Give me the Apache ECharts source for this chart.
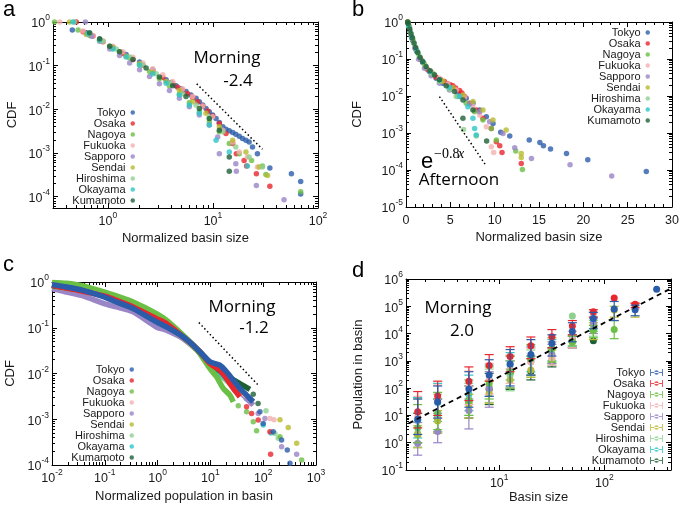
<!DOCTYPE html>
<html><head><meta charset="utf-8">
<script src="https://cdn.jsdelivr.net/npm/echarts@6/dist/echarts.min.js"></script>
<style>html,body{margin:0;padding:0;background:#fff}#c{width:685px;height:511px}</style>
</head><body><div id="c"></div>
<script>
const cities = ['Tokyo','Osaka','Nagoya','Fukuoka','Sapporo','Sendai','Hiroshima','Okayama','Kumamoto'];
const cityColors = ['#2a5caa','#e8262d','#6abf44','#f5b0b0','#9a85c6','#b8ba2e','#8ed08e','#2ec5c8','#1e6036'];

// ---- panel a : morning basin size CDF ----
const aTokyo = [[0.458,0.653],[0.623,0.567],[0.834,0.398],[1.115,0.265],[1.49,0.179],[2.0,0.121],[2.67,0.0809],[3.58,0.0475],[3.99,0.0412],[4.45,0.0345],[4.97,0.0295],[5.54,0.0256],[6.18,0.0214],[6.90,0.0179],[7.42,0.0150],[7.98,0.0126],[8.58,0.0105],[9.23,0.00883],[9.93,0.0074],[10.7,0.0062],[11.5,0.0050],[12.4,0.00398],[13.3,0.00352],[14.3,0.00322],[15.4,0.00295],[16.5,0.0027],[17.8,0.00243],[19.1,0.00214],[20.6,0.00196],[22.1,0.00179],[23.8,0.00138],[26.5,0.000966],[34.8,0.000451],[55.8,0.000334],[68.4,0.000222],[68.4,0.000115]];
const aOsaka = [[0.50,1],[0.58,0.598],[0.721,0.475],[0.897,0.352],[1.115,0.256],[1.39,0.189],[1.73,0.138],[2.15,0.102],[2.67,0.074],[3.33,0.0538],[4.14,0.0384],[4.62,0.0322],[5.15,0.027],[5.74,0.0226],[6.41,0.0186],[7.15,0.0150],[7.98,0.0119],[8.9,0.00916],[9.93,0.00702],[11.5,0.00475],[13.3,0.00279],[15.4,0.00164],[16.7,0.000966],[19.8,0.000677],[20.9,0.000501],[25.9,0.000334],[34.8,0.000173]];
const aNagoya = [[0.31,1],[0.52,0.653],[0.67,0.492],[0.834,0.384],[1.04,0.279],[1.29,0.207],[1.61,0.150],[2.0,0.105],[2.49,0.074],[3.09,0.0501],[3.85,0.0345],[4.79,0.0222],[5.96,0.0143],[7.42,0.00883],[9.23,0.00519],[11.5,0.00305],[14.3,0.00164],[17.8,0.000966],[23.3,0.000677],[29.6,0.000501],[31.9,0.000322],[68.4,0.000130]];
const aFukuoka = [[0.348,1],[0.58,0.62],[0.721,0.492],[0.897,0.371],[1.115,0.279],[1.39,0.207],[1.73,0.156],[2.15,0.115],[2.67,0.0853],[3.33,0.062],[4.14,0.0435],[5.15,0.0295],[6.41,0.0196],[7.98,0.0119],[9.93,0.00677],[12.4,0.00334],[15.4,0.00179],[17.8,0.00105],[21.3,0.000809],[26.5,0.000475]];
const aSapporo = [[0.61,1],[0.70,0.47],[0.834,0.364],[1.04,0.242],[1.29,0.170],[1.61,0.115],[2.0,0.0809],[2.49,0.0567],[3.09,0.0384],[3.85,0.027],[4.79,0.0179],[5.96,0.0115],[7.42,0.0074],[9.23,0.00435],[11.1,0.00234],[11.5,0.000966],[16.5,0.000567],[16.7,0.000384],[25.9,0.000179],[47.5,0.0000853]];
const aSendai = [[0.43,1],[0.623,0.519],[0.834,0.384],[1.115,0.256],[1.49,0.164],[2.0,0.111],[2.67,0.0702],[3.58,0.0435],[4.79,0.027],[6.41,0.015],[8.58,0.00809],[11.5,0.00398],[15.4,0.00196],[20.6,0.00105],[27.5,0.000475],[33.1,0.000305]];
const aHiroshima = [[0.48,1],[0.67,0.548],[0.897,0.364],[1.20,0.242],[1.61,0.158],[2.15,0.102],[2.88,0.0654],[3.85,0.0398],[5.15,0.0226],[6.90,0.0126],[9.23,0.00654],[12.4,0.00305],[16.5,0.00138],[22.1,0.000809],[29.6,0.000475]];
const aOkayama = [[0.465,1],[0.645,0.538],[0.834,0.384],[1.115,0.242],[1.49,0.158],[2.0,0.104],[2.67,0.0654],[3.58,0.0398],[4.79,0.0214],[5.96,0.0126],[7.42,0.00809],[9.23,0.00435],[10.7,0.00196],[14.3,0.00105],[21.3,0.000501]];
const aKumamoto = [[0.67,0.567],[0.834,0.412],[1.04,0.279],[1.29,0.207],[1.73,0.138],[2.31,0.0883],[3.09,0.0548],[4.14,0.0345],[5.54,0.0196],[7.42,0.0105],[9.23,0.0062],[11.5,0.00334],[14.3,0.000809],[14.3,0.000384]];
const aGuide = [[7.0,0.0384],[29.6,0.00122]];

// ---- panel b : afternoon basin size CDF ----
const bTokyo = [[0.23,0.94],[0.45,0.558],[0.75,0.318],[1.21,0.160],[1.89,0.0805],[2.64,0.0459],[3.40,0.0303],[4.15,0.0221],[4.91,0.0162],[5.85,0.0119],[6.79,0.00869],[7.55,0.00635],[8.30,0.00419],[9.06,0.00276],[9.81,0.00182],[10.68,0.00104],[11.7,0.000826],[13.9,0.000643],[15.1,0.000556],[15.5,0.000452],[16.3,0.000367],[18.1,0.00028],[20.5,0.000188],[27.1,0.0000908]];
const bOsaka = [[0.19,1],[0.38,0.688],[0.68,0.368],[1.13,0.178],[1.70,0.0951],[2.45,0.0509],[3.40,0.0322],[3.9,0.028],[4.34,0.0246],[4.7,0.0215],[5.0,0.020],[5.28,0.0188],[5.6,0.0165],[6.04,0.014],[6.3,0.012],[6.60,0.00963],[7.17,0.00635],[7.92,0.00419],[8.68,0.00249],[9.62,0.00133],[10.19,0.00058],[10.57,0.000452],[10.83,0.000298],[13.0,0.00015]];
const bNagoya = [[0.19,1],[0.38,0.732],[0.68,0.392],[1.06,0.197],[1.58,0.106],[2.26,0.0589],[3.02,0.0373],[3.96,0.0246],[4.91,0.0152],[5.85,0.00963],[6.79,0.00635],[7.74,0.00378],[8.68,0.00224],[9.62,0.00133],[10.19,0.000643],[12.38,0.000324],[13.13,0.000103]];
const bFukuoka = [[0.38,0.76],[0.75,0.346],[1.28,0.160],[1.96,0.0805],[2.83,0.0459],[3.77,0.0303],[4.72,0.0212],[5.66,0.0146],[6.60,0.00924],[7.55,0.00538],[8.30,0.00306],[9.06,0.00148],[9.62,0.000424],[9.89,0.000298]];
const bSapporo = [[0.30,0.795],[0.60,0.409],[0.98,0.197],[1.43,0.0991],[2.08,0.0565],[2.83,0.035],[3.77,0.0221],[4.91,0.0146],[6.04,0.00963],[7.17,0.0061],[8.30,0.00378],[9.43,0.00202],[10.94,0.000975],[12.26,0.000398],[14.15,0.000205],[18.5,0.000138],[23.2,0.0000693]];
const bSendai = [[0.34,0.76],[0.75,0.346],[1.32,0.150],[2.08,0.0741],[3.02,0.0414],[4.15,0.0256],[5.28,0.0169],[6.42,0.0107],[7.55,0.00705],[8.68,0.00419],[9.81,0.00224],[11.3,0.0012],[13.0,0.00028],[13.0,0.000218]];
const bHiroshima = [[0.26,0.865],[0.53,0.503],[0.91,0.258],[1.43,0.130],[2.08,0.0696],[2.94,0.0397],[3.77,0.0246],[4.91,0.0152],[5.66,0.00963],[6.49,0.00125],[7.92,0.000826]];
const bOkayama = [[0.30,0.76],[0.68,0.368],[1.21,0.170],[1.89,0.0857],[2.72,0.0459],[3.77,0.0273],[4.91,0.0172],[6.04,0.00963],[6.98,0.00515],[7.55,0.00249],[7.74,0.00133],[7.92,0.000879]];
const bKumamoto = [[0.19,1],[0.26,0.901],[0.42,0.646],[0.57,0.483],[0.72,0.368],[0.91,0.269],[1.09,0.206],[1.32,0.150],[1.58,0.112],[1.89,0.0839],[2.26,0.0627],[2.72,0.0479],[3.21,0.0373],[3.77,0.0273],[4.53,0.0188],[5.47,0.0132],[6.42,0.00782],[6.42,0.00249],[7.55,0.00419],[9.09,0.000604]];
const bGuide = [[3.77,0.00963],[8.94,0.000141]];

// ---- panel c : morning population CDF (dense body + tail) ----
const cTokyoBody = [[0.01,0.875],[0.0187,0.778],[0.0387,0.658],[0.0968,0.471],[0.166,0.366],[0.344,0.262],[0.953,0.134],[1.47,0.104],[3.05,0.0631],[4.72,0.0415],[6.31,0.0297],[9.77,0.018],[15.1,0.0152],[20.2,0.0109],[27.1,0.00716],[36.2,0.00471],[48.4,0.00337],[64.8,0.00241]];
const cTokyoTail = [[86.7,0.00146],[100,0.00081],[155,0.000533],[223,0.000351],[286,0.000212],[321,0.000109]];
const cOsakaBody = [[0.01,0.846],[0.0187,0.74],[0.0387,0.626],[0.0968,0.495],[0.166,0.398],[0.344,0.285],[0.953,0.158],[1.47,0.123],[3.05,0.0631],[4.72,0.0415],[6.31,0.0297],[9.77,0.0165],[15.1,0.0118],[20.2,0.00778],[27.1,0.00471],[36.2,0.0031]];
const cOsakaTail = [[48.4,0.00187],[60.3,0.00134],[80.5,0.000959],[134,0.000533],[138,0.000171]];
const cNagoyaBody = [[0.01,0.98],[0.0187,0.935],[0.0387,0.818],[0.0968,0.605],[0.166,0.495],[0.344,0.366],[0.953,0.204],[1.47,0.146],[3.05,0.0686],[4.72,0.0415],[6.31,0.0273],[9.77,0.0129],[13.1,0.00846],[17.5,0.00471],[23.4,0.00337],[27.1,0.00241]];
const cNagoyaTail = [[33.7,0.00197],[48.4,0.00146],[64.8,0.00088],[75,0.000561],[208,0.000415],[535,0.000129]];
const cFukuokaBody = [[0.01,0.846],[0.0387,0.64],[0.0968,0.5],[0.344,0.29],[0.953,0.16],[3.05,0.065],[6.31,0.029],[9.77,0.0155],[15.1,0.0105],[27.1,0.0055],[48.4,0.0032]];
const cFukuokaTail = [[60,0.0022],[134,0.00104],[160,0.00098]];
const cSapporoBody = [[0.01,0.716],[0.0187,0.605],[0.0387,0.495],[0.0968,0.337],[0.166,0.285],[0.344,0.222],[0.953,0.104],[1.47,0.0881],[3.05,0.058],[4.72,0.0382],[6.31,0.0297],[9.77,0.018],[15.1,0.0118],[23.4,0.00658],[36.2,0.00398],[64.8,0.00204]];
const cSapporoTail = [[80.5,0.00134],[108,0.00104],[223,0.000251],[430,0.000171]];
const cSendaiBody = [[0.01,0.83],[0.0387,0.64],[0.0968,0.49],[0.344,0.28],[0.953,0.15],[3.05,0.062],[6.31,0.028],[9.77,0.016],[20.2,0.008],[36.2,0.0045]];
const cSendaiTail = [[208,0.00098],[298,0.00066],[430,0.0003]];
const cHiroshimaBody = [[0.01,0.84],[0.0387,0.65],[0.0968,0.5],[0.344,0.29],[0.953,0.155],[3.05,0.064],[6.31,0.028],[9.77,0.015],[20.2,0.007],[36.2,0.0035]];
const cHiroshimaTail = [[113,0.00153],[167,0.00049],[193,0.000382]];
const cOkayamaBody = [[0.01,0.85],[0.0387,0.66],[0.0968,0.51],[0.344,0.3],[0.953,0.16],[3.05,0.066],[6.31,0.029],[9.77,0.016],[20.2,0.0075],[36.2,0.004]];
const cOkayamaTail = [[48,0.0028],[100,0.00075],[140,0.0005]];
const cKumamotoBody = [[0.01,0.84],[0.0387,0.65],[0.0968,0.5],[0.344,0.29],[0.953,0.155],[3.05,0.064],[6.31,0.03],[9.77,0.017],[20.2,0.009],[36.2,0.006],[56,0.0045]];
const cKumamotoTail = [[64.8,0.0035],[80,0.0022]];
const cGuide = [[6.04,0.13],[80.5,0.00556]];

// ---- panel d : population vs basin size, [mean, low, high] per bin ----
const dBins = [1.68, 2.6, 5.15, 8.03, 12.7, 20, 31.7, 49.6, 78.6, 124, 196, 314];
const dTokyo = [[7.3,2.0,40],[32,8,120],[93,20,400],[300,50,1100],[760,120,2600],[1700,300,6000],[4400,1500,9000],[12000,5000,25000],[36000,15000,60000],[80000,30000,150000],[75000,45000,110000],[418000,418000,418000]];
const dOsaka = [[13.7,3.5,75],[52,10,180],[180,35,600],[680,180,1700],[1430,400,3300],[3600,1200,7500],[7700,3000,14000],[19000,9000,30000],[63000,40000,75000],[200000,200000,200000],[118000,90000,130000],null];
const dNagoya = [[3.5,1,25],[12,3,70],[35,10,200],[150,40,600],[400,100,1500],[1200,300,4000],[2800,900,7000],[5000,3500,8000],[13000,7000,20000],[14000,6500,30000],null,null];
const dFukuoka = [[9,2,50],[35,8,130],[110,25,420],[200,60,800],[450,150,1600],[900,300,3000],[1300,700,5000],[6000,3000,12000],[50000,20000,60000],null,[110000,80000,130000],null];
const dSapporo = [[0.95,0.35,5.5],[2.6,1.0,12],[15,3.2,40],[100,20,400],[460,100,1500],[1000,300,3000],[1600,800,4000],[6500,3000,12000],[22000,10000,35000],null,null,null];
const dSendai = [[2.0,0.65,4.2],[6.3,2.2,15],[25,8,60],[65,28,180],[200,100,500],[460,250,1200],[1100,800,2500],[4800,3000,9000],[13000,6000,25000],[73000,40000,100000],[97000,40000,130000],null];
const dHiroshima = [[2.2,0.7,40],[10,2.5,60],[38,10,150],[110,30,500],[300,80,1000],[900,250,2500],[1800,700,5000],[44000,44000,44000],[18000,8000,30000],null,null,null];
const dOkayama = [[6.5,1.5,45],[30,6,150],[60,15,300],[200,50,700],[700,200,2000],[1300,400,3500],[2900,1000,6000],[5800,3500,9000],[25000,12000,40000],null,null,null];
const dKumamoto = [[2,1,12],[8,2.5,40],[30,8,120],[90,25,350],[350,90,1000],[400,200,1500],[950,600,3000],[5000,3000,8000],[5500,5500,5500],null,null,null];
const dGuide = [[1.38,5.1],[420,430000]];

const aData = [aTokyo,aOsaka,aNagoya,aFukuoka,aSapporo,aSendai,aHiroshima,aOkayama,aKumamoto];
const bData = [bTokyo,bOsaka,bNagoya,bFukuoka,bSapporo,bSendai,bHiroshima,bOkayama,bKumamoto];
const cBody = [cTokyoBody,cOsakaBody,cNagoyaBody,cFukuokaBody,cSapporoBody,cSendaiBody,cHiroshimaBody,cOkayamaBody,cKumamotoBody];
const cTail = [cTokyoTail,cOsakaTail,cNagoyaTail,cFukuokaTail,cSapporoTail,cSendaiTail,cHiroshimaTail,cOkayamaTail,cKumamotoTail];
const dData = [dTokyo,dOsaka,dNagoya,dFukuoka,dSapporo,dSendai,dHiroshima,dOkayama,dKumamoto];

const FONT = 'Liberation Sans';
const TXT = '#1a1a1a';
function logLabel(v) {
  const l = Math.log10(v), e = Math.round(l);
  if (Math.abs(l - e) > 1e-6) return '';
  return '{b|10}{s|' + e + '}';
}
const rich = {
  b: {fontFamily: FONT, fontSize: 12.5, color: TXT, lineHeight: 17, verticalAlign: 'bottom'},
  s: {fontFamily: FONT, fontSize: 8.5, color: TXT, lineHeight: 17, verticalAlign: 'top'}
};
function axis(kind, gi, type, min, max, extra, mirror) {
  const isX = kind === 'x';
  const a = {
    type, gridIndex: gi, min, max,
    position: mirror ? (isX ? 'top' : 'right') : (isX ? 'bottom' : 'left'),
    axisLine: {show: true, onZero: false, lineStyle: {color: '#000', width: 1}},
    axisTick: {show: true, inside: true, length: 5, lineStyle: {color: '#000', width: 1}},
    minorTick: {show: type === 'log', splitNumber: 9, length: 3, lineStyle: {color: '#000', width: 1}},
    splitLine: {show: false},
    axisLabel: mirror ? {show: false} : {
      show: true, margin: 3, color: TXT, fontFamily: FONT, fontSize: 12.5,
      showMinLabel: true, showMaxLabel: true,
      formatter: type === 'log' ? logLabel : undefined, rich
    },
    nameTextStyle: {fontFamily: FONT, fontSize: 13, color: TXT}
  };
  if (type === 'log') a.logBase = 10;
  return Object.assign(a, mirror ? {} : extra);
}
const xCfg = [
  ['log', 0.3, 100, {splitNumber: 2, name: 'Normalized basin size', nameLocation: 'middle', nameGap: 24}],
  ['value', 0, 30, {interval: 5, name: 'Normalized basin size', nameLocation: 'middle', nameGap: 24, axisLabel: {show: true, margin: 7, color: TXT, fontFamily: FONT, fontSize: 12.5}}],
  ['log', 0.01, 1000, {splitNumber: 5, name: 'Normalized population in basin', nameLocation: 'middle', nameGap: 25}],
  ['log', 1.3, 430, {splitNumber: 2, name: 'Basin size', nameLocation: 'middle', nameGap: 20}]
];
const yCfg = [
  ['log', 5.5e-5, 1, {splitNumber: 5, name: 'CDF', nameLocation: 'middle', nameGap: 34}],
  ['log', 1e-5, 1, {splitNumber: 5, name: 'CDF', nameLocation: 'middle', nameGap: 42}],
  ['log', 1e-4, 1, {splitNumber: 4, name: 'CDF', nameLocation: 'middle', nameGap: 35}],
  ['log', 0.1, 1e6, {splitNumber: 7, name: 'Population in basin', nameLocation: 'middle', nameGap: 41}]
];
const xAxes = [], yAxes = [];
for (let m = 0; m < 2; m++) {
  xCfg.forEach((c, i) => xAxes.push(axis('x', i, c[0], c[1], c[2], c[3], m === 1)));
  yCfg.forEach((c, i) => yAxes.push(axis('y', i, c[0], c[1], c[2], c[3], m === 1)));
}
// linear x axis of panel b: minor ticks every 1 unit
xAxes[1].minorTick = {show: true, splitNumber: 5, length: 3, lineStyle: {color: '#000'}};
xAxes[5].minorTick = {show: true, splitNumber: 5, length: 3, lineStyle: {color: '#000'}};

const series = [];
cities.forEach((n, i) => series.push({type: 'scatter', name: n, xAxisIndex: 0, yAxisIndex: 0, data: aData[i], symbolSize: 5.5, itemStyle: {color: cityColors[i]}, animation: false}));
cities.forEach((n, i) => series.push({type: 'scatter', name: n, xAxisIndex: 1, yAxisIndex: 1, data: bData[i], symbolSize: 5.5, itemStyle: {color: cityColors[i]}, animation: false}));
const cOrder = [4, 3, 5, 6, 7, 8, 2, 1, 0];
cOrder.forEach(i => series.push({type: 'line', name: cities[i], xAxisIndex: 2, yAxisIndex: 2, data: cBody[i], smooth: 0.2, showSymbol: false, lineStyle: {color: cityColors[i], width: 5.5}, itemStyle: {color: cityColors[i]}, animation: false}));
cOrder.forEach(i => series.push({type: 'scatter', name: cities[i], xAxisIndex: 2, yAxisIndex: 2, data: cTail[i], symbolSize: 5.5, itemStyle: {color: cityColors[i]}, animation: false}));

function errRender(params, api) {
  const x = api.value(0), m = api.value(1), lo = api.value(2), hi = api.value(3);
  const c = api.visual('color');
  const pm = api.coord([x, m]), pl = api.coord([x, lo]), ph = api.coord([x, hi]);
  const w = 4.5, st = {stroke: c, lineWidth: 1.2};
  const ch = [];
  if (hi > lo) {
    ch.push({type: 'line', shape: {x1: pl[0], y1: pl[1], x2: ph[0], y2: ph[1]}, style: st});
    ch.push({type: 'line', shape: {x1: pl[0] - w, y1: pl[1], x2: pl[0] + w, y2: pl[1]}, style: st});
    ch.push({type: 'line', shape: {x1: ph[0] - w, y1: ph[1], x2: ph[0] + w, y2: ph[1]}, style: st});
  }
  ch.push({type: 'circle', shape: {cx: pm[0], cy: pm[1], r: 3.5}, style: {fill: c}});
  return {type: 'group', children: ch};
}
const dOrder = [8, 7, 6, 5, 4, 3, 2, 1, 0];
dOrder.forEach(i => {
  const rows = [];
  dBins.forEach((b, k) => { const r = dData[i][k]; if (r) rows.push([b, r[0], r[1], r[2]]); });
  series.push({type: 'custom', name: cities[i], xAxisIndex: 3, yAxisIndex: 3, data: rows, encode: {x: 0, y: [1, 2, 3]}, renderItem: errRender, itemStyle: {color: cityColors[i]}, animation: false});
});

function guide(xi, data, dash, w) {
  return {type: 'line', xAxisIndex: xi, yAxisIndex: xi, data, showSymbol: false, silent: true, lineStyle: {color: '#000', width: w, type: dash}, animation: false, z: 5};
}
series.push(guide(0, aGuide, [1.5, 2.5], 1.5));
series.push(guide(1, bGuide, [1.5, 2.5], 1.5));
series.push(guide(2, cGuide, [1.5, 2.5], 1.5));
series.push(guide(3, dGuide, [5, 4], 1.8));

const errIcon = 'path://M0,6h26v2h-26z M0,0h2v14h-2z M24,0h2v14h-2z M8.5,7a4.5,4.5 0 1,0 9,0a4.5,4.5 0 1,0 -9,0z';
function legend(right, top, icon, iw, ih) {
  return {
    orient: 'vertical', align: 'right', right, top, padding: 0, itemGap: 0,
    itemWidth: iw, itemHeight: ih, selectedMode: false,
    textStyle: {fontFamily: FONT, fontSize: 11, color: TXT, lineHeight: 10.7},
    data: cities.map(n => ({name: n, icon}))
  };
}

function txt(x, y, text, font, align) {
  return {type: 'text', x, y, silent: true, style: {text, font, fill: '#000', textAlign: align || 'center', textVerticalAlign: 'middle', align: align || 'center', verticalAlign: 'middle'}};
}
const OS = '"Open Sans"';
const graphic = [
  txt(3, 10, 'a', '22px "Liberation Sans"', 'left'),
  txt(352, 10, 'b', '22px "Liberation Sans"', 'left'),
  txt(3, 265, 'c', '22px "Liberation Sans"', 'left'),
  txt(352, 271, 'd', '22px "Liberation Sans"', 'left'),
  txt(227, 58, 'Morning', '17px ' + OS),
  txt(238, 81, '-2.4', '17px ' + OS),
  txt(242, 307, 'Morning', '17px ' + OS),
  txt(254, 328, '-1.2', '17px ' + OS),
  txt(458, 308, 'Morning', '17px ' + OS),
  txt(462, 331, '2.0', '17px ' + OS),
  txt(421, 162, 'e', '22px "Liberation Sans"', 'left'),
  txt(434, 154, '\u22120.8', '14px "Liberation Serif"', 'left'),
  txt(458, 154, 'x', 'italic 14px "Liberation Serif"', 'left'),
  txt(459, 180, 'Afternoon', '17px ' + OS)
];

const chart = echarts.init(document.getElementById('c'), null, {renderer: 'canvas'});
chart.setOption({
  animation: false,
  backgroundColor: '#fff',
  grid: [
    {left: 53, top: 22, width: 265, height: 186},
    {left: 406, top: 22, width: 266, height: 185},
    {left: 52, top: 282, width: 264, height: 183},
    {left: 406, top: 279, width: 265, height: 191}
  ],
  xAxis: xAxes,
  yAxis: yAxes,
  legend: [
    legend(550, 107, 'circle', 4.5, 4.5),
    legend(35, 27, 'circle', 4.5, 4.5),
    legend(551, 364, 'circle', 4.5, 4.5),
    legend(22, 367, errIcon, 13, 7)
  ],
  series,
  graphic
});
</script></body></html>
